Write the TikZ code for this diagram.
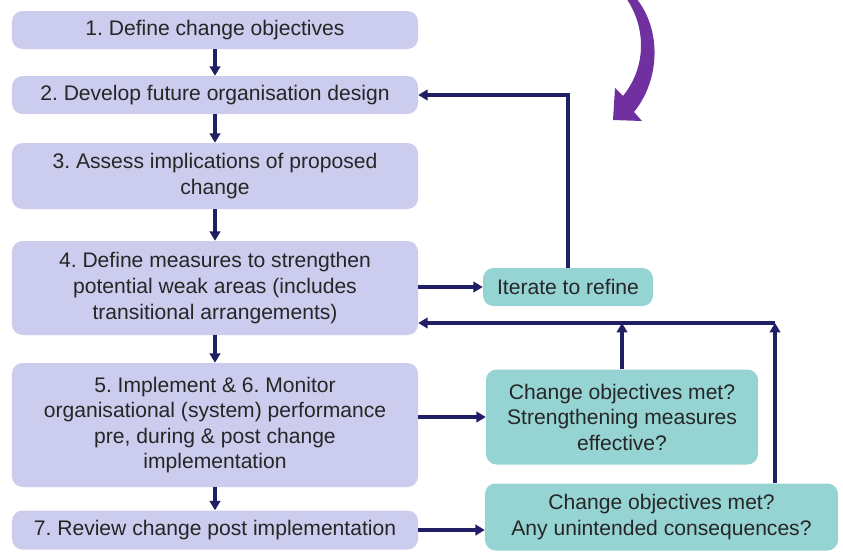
\documentclass[tikz,border=0pt]{standalone}
\usepackage{fontspec}
\setmainfont{Liberation Sans}
\usepackage{xcolor}
\usetikzlibrary{arrows.meta}
\frenchspacing

\definecolor{lilac}{RGB}{204,204,238}
\definecolor{teal2}{RGB}{150,212,212}
\definecolor{navy}{RGB}{32,30,100}
\definecolor{violet2}{RGB}{112,48,160}

\tikzset{
  stepbox/.style={fill=lilac,rounded corners=9pt,align=center,
    minimum width=12.18cm,text=black!85,font=\fontsize{18}{21.8}\selectfont},
  checkbox/.style={fill=teal2,rounded corners=9pt,align=center,
    text=black!85,font=\fontsize{18}{21.8}\selectfont},
  arr/.style={draw=navy,line width=2.6pt,-{Triangle[length=8pt,width=9pt]}}
}

\begin{document}
\begin{tikzpicture}[x=0.03cm,y=-0.03cm]
                    \useasboundingbox(0,0)rectangle(843,551);
                    % steps on the left
                    \node[stepbox,minimum height=1.14cm](s1) at (215,30){1. Define change objectives};
                    \node[stepbox,minimum height=1.14cm](s2) at (215,95){2. Develop future organisation design};
                    \node[stepbox,minimum height=1.98cm](s3) at (215,176){3. Assess implications of proposed\\change};
                    \node[stepbox,minimum height=2.82cm](s4) at (215,288){4. Define measures to strengthen\\potential weak areas (includes\\transitional arrangements)};
                    \node[stepbox,minimum height=3.72cm](s5) at (215,425){5. Implement \& 6. Monitor\\organisational (system) performance\\pre, during \& post change\\implementation};
                    \node[stepbox,minimum height=1.17cm](s7) at (215,530){7. Review change post implementation};
                    % checks on the right
                    \node[checkbox,minimum width=5.1cm,minimum height=1.14cm](it) at (568,287){Iterate to refine};
                    \node[checkbox,minimum width=8.16cm,minimum height=2.85cm](ca) at (622,417){Change objectives met?\\Strengthening measures\\effective?};
                    \node[checkbox,minimum width=10.59cm,minimum height=2.01cm](cb) at (661.5,517){Change objectives met?\\Any unintended consequences?};
                    \coordinate(ret) at (775,323);
                    % down the chain
                    \draw[arr](s1)--(s2);
                    \draw[arr](s2)--(s3);
                    \draw[arr](s3)--(s4);
                    \draw[arr](s4)--(s5);
                    \draw[arr](s5)--(s7);
                    % loops
                    \draw[arr](s4.east|-it.west)--(it.west);
                    \draw[arr](it.north)|-(s2.east);
                    \draw[arr](s5.east|-ca.west)--(ca.west);
                    \draw[arr](s7.east)--(s7.east-|cb.west);
                    \draw[arr](ca.north)--(ca.north|-ret);
                    \draw[arr](cb.north-|ret)--(ret);
                    \draw[arr](ret)--(ret-|s4.east);
                    % purple arrow
                    \fill[violet2](626,-2)..controls(645,25)and(648,65)..(623,96)--(615,88)--(613,120)--(642,121)--(634,112)..controls(660,80)and(662,30)..(636,-2)--cycle;
                \end{tikzpicture}
\end{document}
